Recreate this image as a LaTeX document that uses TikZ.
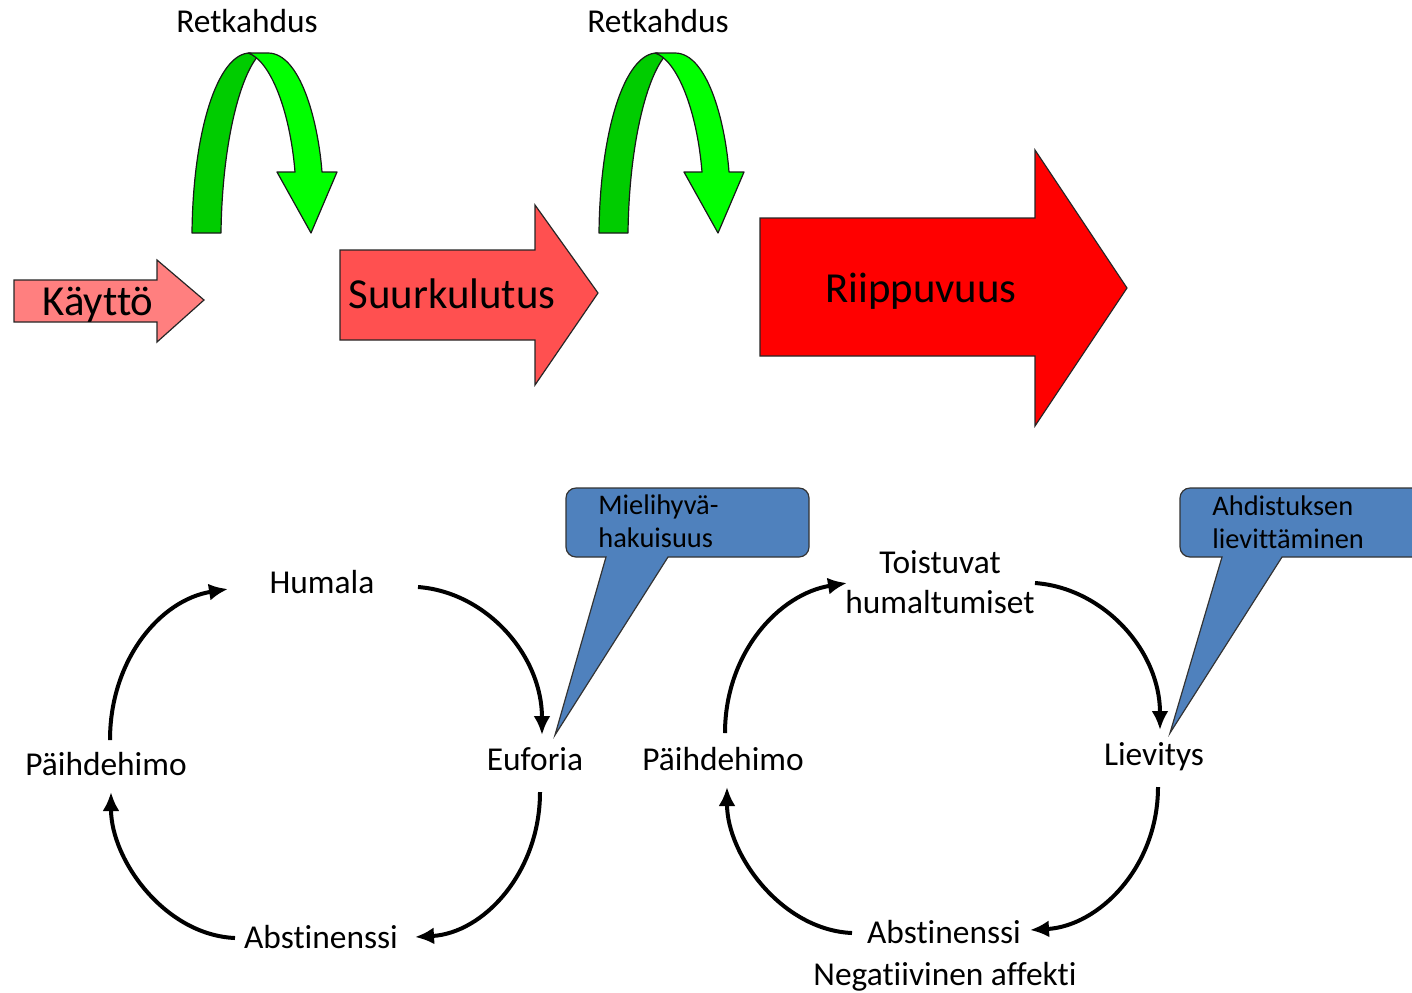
\documentclass[tikz,border=0pt]{standalone}
\usepackage{fontspec}
\setmainfont{Carlito}[Ligatures=NoCommon]
\usetikzlibrary{calc,arrows.meta}
\definecolor{usepink}{HTML}{FF7F7F}
\definecolor{heavyred}{HTML}{FF5050}
\definecolor{depred}{HTML}{FF0000}
\definecolor{archdark}{HTML}{00CC00}
\definecolor{archlight}{HTML}{00FF00}
\definecolor{noteblue}{HTML}{4F81BD}

\tikzset{
  blockarrow/.style={draw=black!85, line width=0.6pt, line join=miter},
  archpart/.style={draw=black!90, line width=0.6pt, line join=round},
  biglabel/.style={font=\fontsize{21.4}{25}\selectfont, inner sep=0pt, anchor=base},
  lab/.style={font=\fontsize{16.7}{20}\selectfont, inner sep=0pt, align=center},
  notetext/.style={font=\fontsize{14.2}{16.5}\selectfont, inner sep=0pt, align=left, anchor=base west},
  cyc/.style={line width=2pt, -{Latex[length=9.5pt,width=8.5pt]}},
  note/.style={fill=noteblue, draw=black!80, line width=0.6pt},
  relapse/.pic={
    % back (dark) half of the arch
    \path[archpart, fill=archdark]
      (192,233) .. controls (193,130) and (218,53) .. (250,53)
      -- (258,56) .. controls (238,80) and (222,150) .. (221,233) -- cycle;
    % front (light) half with the arrow head
    \path[archpart, fill=archlight]
      (248,53) -- (268,53) .. controls (300,53) and (318,120) .. (322,172)
      -- (337,172) -- (311,233) -- (277,172) -- (295,172)
      .. controls (290,110) and (270,60) .. (248,53) -- cycle;
  }
}

\begin{document}
\begin{tikzpicture}[x=0.5pt,y=-0.5pt]
\useasboundingbox (0,0) rectangle (1412,992);
\clip (0,0) rectangle (1412,992);

% ---- stages ----
\path[blockarrow, fill=usepink]
  (14,280) -- (157,280) -- (157,260) -- (204,300) -- (157,342) -- (157,322) -- (14,322) -- cycle;
\node[biglabel] (use) at (98,315) {Käyttö};

\path[blockarrow, fill=heavyred]
  (340,250) -- (535,250) -- (535,205) -- (598,293) -- (535,385) -- (535,340) -- (340,340) -- cycle;
\node[biglabel] (heavy) at (452,308) {Suurkulutus};

\path[blockarrow, fill=depred]
  (760,218) -- (1035,218) -- (1035,150) -- (1127,288) -- (1035,426) -- (1035,356) -- (760,356) -- cycle;
\node[biglabel] (dep) at (921,302) {Riippuvuus};

% ---- relapses ----
\pic at (0,0) {relapse};
\pic at (407,0) {relapse};
\node[lab, anchor=base] (rel1) at (247,32) {Retkahdus};
\node[lab, anchor=base] (rel2) at (658,32) {Retkahdus};

% ---- callouts ----
\path[note] (668,557) [rounded corners=5pt] -- (809,557) -- (809,488) -- (566,488) -- (566,557)
  [sharp corners] -- (606,557) -- (555,735) -- cycle;
\node[notetext] (pleasure) at (598,547) {Mielihyvä-\\hakuisuus};

\path[note] (1282,557) [rounded corners=5pt] -- (1440,557) -- (1440,488) -- (1180,488) -- (1180,557)
  [sharp corners] -- (1222,557) -- (1170,733) -- cycle;
\node[notetext] (relief) at (1212,548) {Ahdistuksen\\lievittäminen};

% ---- left cycle ----
\node[lab, anchor=base] (hum1) at (322,593) {Humala};
\node[lab, anchor=base] (ph1) at (106,775) {Päihdehimo};
\node[lab, anchor=base] (eu1) at (535,770) {Euforia};
\node[lab, anchor=base] (ab1) at (321,948) {Abstinenssi};

\draw[cyc] ($(ph1.base)+(4,-35)$) .. controls +(0,-80) and +(-68,11) .. ($(hum1.base)+(-94,-4)$);
\draw[cyc] ($(hum1.base)+(96,-6)$) .. controls +(68,5) and +(0,-80) .. ($(eu1.base)+(7,-35)$);
\draw[cyc] ($(eu1.base)+(5,22)$) .. controls +(0,80) and +(69,-4) .. ($(ab1.base)+(94,-11)$);
\draw[cyc] ($(ab1.base)+(-86,-10)$) .. controls +(-70,-3) and +(0,68) .. ($(ph1.base)+(5,17)$);

% ---- right cycle ----
\node[lab] (to2) at (940,582) {Toistuvat\\humaltumiset};
\node[lab, anchor=base] (ph2) at (723,770) {Päihdehimo};
\node[lab, anchor=base] (li2) at (1154,765) {Lievitys};
\node[lab, anchor=base] (ab2) at (944,943) {Abstinenssi};
\node[lab, anchor=base] (ng2) at (945,985) {Negatiivinen affekti};

\draw[cyc] ($(ph2.base)+(2,-37)$) .. controls +(0,-80) and +(-68,11) .. ($(to2.center)+(-93,1)$);
\draw[cyc] ($(to2.center)+(95,1)$) .. controls +(68,5) and +(0,-80) .. ($(li2.base)+(6,-35)$);
\draw[cyc] ($(li2.base)+(4,22)$) .. controls +(0,80) and +(69,-4) .. ($(ab2.base)+(86,-13)$);
\draw[cyc] ($(ab2.base)+(-92,-10)$) .. controls +(-70,-3) and +(0,68) .. ($(ph2.base)+(4,17)$);
\end{tikzpicture}
\end{document}
